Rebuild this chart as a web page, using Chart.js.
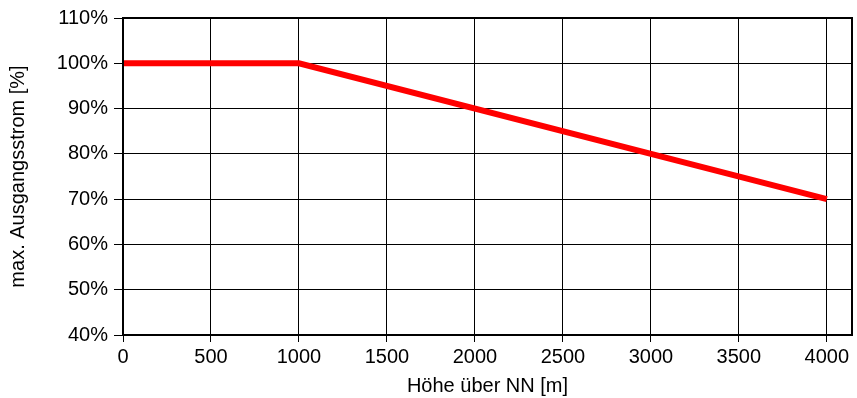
<!DOCTYPE html>
<html>
<head>
<meta charset="utf-8">
<script src="https://cdn.jsdelivr.net/npm/chart.js@4.4.0/dist/chart.umd.min.js"></script>
<style>
  html, body { margin: 0; padding: 0; background: #fff; }
  #wrap { width: 857px; height: 398px; }
</style>
</head>
<body>
<div id="wrap"><canvas id="c"></canvas></div>
<script>
// Höhe über NN [m] vs. max. Ausgangsstrom [%]
const altitude = [0, 1000, 4000];
const maxCurrent = [100, 100, 70];
const xTickValues = [0, 500, 1000, 1500, 2000, 2500, 3000, 3500, 4000];

const FONT = "'Liberation Sans', Arial, Helvetica, sans-serif";

// closes the plot frame on top and right
const frameBox = {
    id: "frameBox",
    afterDatasetsDraw(chart) {
        const a = chart.chartArea;
        const ctx = chart.ctx;
        ctx.save();
        ctx.strokeStyle = "#000";
        ctx.lineWidth = 2;
        ctx.strokeRect(a.left, a.top, a.right - a.left, a.bottom - a.top);
        ctx.restore();
    }
};

new Chart(document.getElementById("c"), {
    type: "line",
    data: {
        datasets: [{
            data: altitude.map((x, i) => ({ x: x, y: maxCurrent[i] })),
            borderColor: "rgb(255, 0, 0)",
            borderWidth: 6,
            pointRadius: 0,
            tension: 0,
            fill: false
        }]
    },
    options: {
        responsive: true,
        maintainAspectRatio: false,
        animation: false,
        layout: { padding: { top: 18, right: 5, left: 0, bottom: 0 } },
        plugins: {
            legend: { display: false },
            tooltip: { enabled: false }
        },
        scales: {
            x: {
                type: "linear",
                min: 0,
                max: 4143,
                afterBuildTicks: (scale) => {
                    scale.ticks = xTickValues.map(v => ({ value: v }));
                },
                afterFit: (scale) => { scale.height = 63; },
                grid: { color: "#000", lineWidth: 1, tickLength: 7, drawOnChartArea: true },
                border: { display: true, color: "#000", width: 2 },
                ticks: {
                    color: "#000",
                    padding: 3,
                    maxRotation: 0,
                    autoSkip: false,
                    font: { family: FONT, size: 20 },
                    callback: (v) => String(v)
                },
                title: {
                    display: true,
                    text: "Höhe über NN [m]",
                    color: "#000",
                    padding: { top: 5, bottom: 0 },
                    font: { family: FONT, size: 20 }
                }
            },
            y: {
                min: 40,
                max: 110,
                afterFit: (scale) => { scale.width = 123; },
                grid: { color: "#000", lineWidth: 1, tickLength: 9 },
                border: { display: true, color: "#000", width: 2 },
                ticks: {
                    stepSize: 10,
                    color: "#000",
                    padding: 6,
                    font: { family: FONT, size: 20 },
                    callback: (v) => v + "%"
                },
                title: {
                    display: true,
                    text: "max. Ausgangsstrom [%]",
                    color: "#000",
                    padding: { top: 6, bottom: 0 },
                    font: { family: FONT, size: 20 }
                }
            }
        }
    },
    plugins: [frameBox]
});
</script>
</body>
</html>
